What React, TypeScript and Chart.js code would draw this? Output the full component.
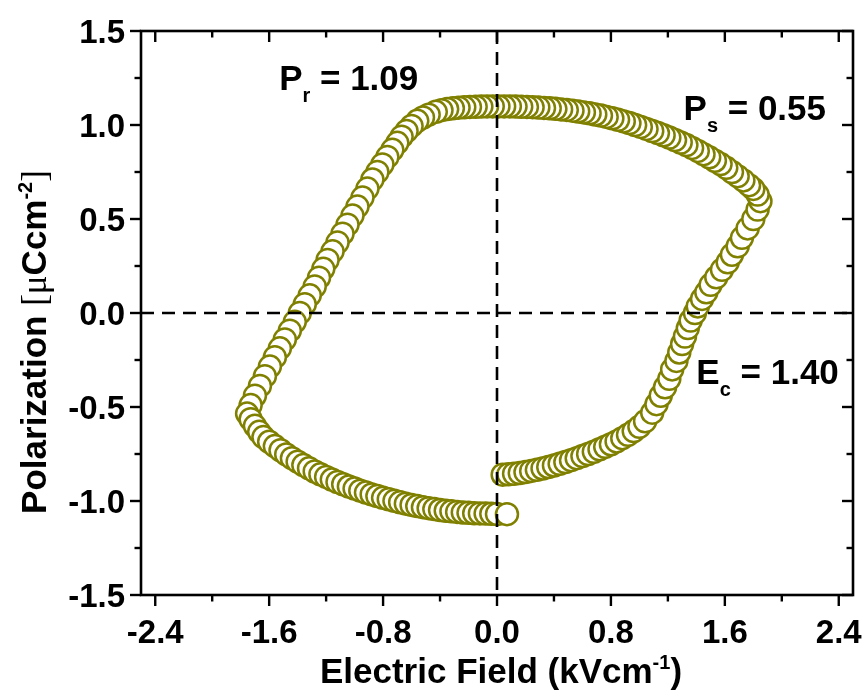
import React, { useEffect, useRef } from "react";
import { Chart, registerables } from "chart.js";

Chart.register(...registerables);

// P–E hysteresis loop, listed in sweep order.
// Branch 1: from the virgin state towards positive field (lower right)
const lowerRightE = [0.04, 0.08, 0.12, 0.16, 0.2, 0.24, 0.28, 0.32, 0.36, 0.4, 0.44, 0.48, 0.52, 0.56, 0.6, 0.64, 0.68, 0.72, 0.76, 0.8, 0.84, 0.88, 0.92, 0.96, 1.0, 1.04];
const lowerRightP = [-0.86, -0.858, -0.855, -0.851, -0.846, -0.84, -0.834, -0.827, -0.819, -0.811, -0.802, -0.793, -0.783, -0.772, -0.761, -0.75, -0.738, -0.725, -0.712, -0.698, -0.683, -0.666, -0.648, -0.628, -0.605, -0.576];

// Branch 2: switching up to the positive tip
const risingE = [1.09, 1.12, 1.15, 1.18, 1.21, 1.23, 1.26, 1.28, 1.3, 1.32, 1.34, 1.36, 1.39, 1.41, 1.44, 1.47, 1.5, 1.54, 1.58, 1.62, 1.65, 1.69, 1.72, 1.76, 1.8, 1.83, 1.85];
const risingP = [-0.53, -0.485, -0.44, -0.395, -0.35, -0.3, -0.255, -0.21, -0.165, -0.125, -0.08, -0.04, 0.0, 0.035, 0.075, 0.11, 0.15, 0.19, 0.23, 0.27, 0.31, 0.355, 0.4, 0.45, 0.5, 0.55, 0.595];

// Branch 3: field reduced back through zero (upper plateau)
const upperE = [1.83, 1.8, 1.77, 1.73, 1.69, 1.65, 1.61, 1.57, 1.53, 1.49, 1.45, 1.41, 1.37, 1.33, 1.29, 1.25, 1.21, 1.17, 1.13, 1.09, 1.05, 1.01, 0.97, 0.93, 0.89, 0.85, 0.81, 0.77, 0.73, 0.69, 0.65, 0.61, 0.57, 0.53, 0.49, 0.45, 0.41, 0.37, 0.33, 0.29, 0.25, 0.21, 0.17, 0.13, 0.09, 0.05, 0.01, -0.03, -0.07, -0.11, -0.15, -0.19, -0.23, -0.27, -0.31, -0.35, -0.39, -0.43];
const upperP = [0.63, 0.66, 0.68, 0.705, 0.728, 0.75, 0.772, 0.792, 0.81, 0.828, 0.845, 0.862, 0.878, 0.893, 0.907, 0.92, 0.933, 0.945, 0.957, 0.968, 0.979, 0.99, 1.0, 1.01, 1.019, 1.028, 1.036, 1.043, 1.05, 1.056, 1.062, 1.067, 1.072, 1.076, 1.08, 1.083, 1.086, 1.089, 1.091, 1.093, 1.095, 1.096, 1.097, 1.098, 1.099, 1.099, 1.099, 1.099, 1.099, 1.098, 1.097, 1.096, 1.094, 1.092, 1.089, 1.085, 1.079, 1.07];

// Branch 4: switching down to the negative tip
const fallingE = [-0.48, -0.52, -0.56, -0.6, -0.635, -0.67, -0.7, -0.735, -0.77, -0.805, -0.84, -0.875, -0.91, -0.945, -0.98, -1.015, -1.05, -1.085, -1.12, -1.155, -1.19, -1.22, -1.25, -1.28, -1.315, -1.35, -1.385, -1.42, -1.455, -1.49, -1.525, -1.56, -1.595, -1.63, -1.665, -1.7, -1.73, -1.755];
const fallingP = [1.055, 1.04, 1.022, 0.995, 0.968, 0.938, 0.905, 0.868, 0.83, 0.79, 0.75, 0.71, 0.662, 0.614, 0.566, 0.518, 0.47, 0.422, 0.375, 0.328, 0.282, 0.235, 0.188, 0.141, 0.094, 0.047, 0.0, -0.047, -0.094, -0.141, -0.188, -0.235, -0.285, -0.336, -0.388, -0.44, -0.49, -0.535];

// Branch 5: return towards zero field (lower plateau)
const lowerE = [-1.73, -1.7, -1.67, -1.64, -1.6, -1.56, -1.52, -1.48, -1.44, -1.4, -1.36, -1.32, -1.28, -1.24, -1.2, -1.16, -1.12, -1.08, -1.04, -1.0, -0.96, -0.92, -0.88, -0.84, -0.8, -0.76, -0.72, -0.68, -0.64, -0.6, -0.56, -0.52, -0.48, -0.44, -0.4, -0.36, -0.32, -0.28, -0.24, -0.2, -0.16, -0.12, -0.08, -0.04, 0.0, 0.07];
const lowerP = [-0.565, -0.6, -0.632, -0.66, -0.685, -0.708, -0.73, -0.752, -0.772, -0.791, -0.809, -0.826, -0.843, -0.858, -0.872, -0.886, -0.899, -0.911, -0.923, -0.934, -0.945, -0.955, -0.965, -0.974, -0.983, -0.991, -0.999, -1.007, -1.014, -1.021, -1.027, -1.033, -1.038, -1.043, -1.048, -1.052, -1.055, -1.058, -1.061, -1.063, -1.065, -1.066, -1.067, -1.068, -1.069, -1.07];

const fieldKVcm = [...lowerRightE, ...risingE, ...upperE, ...fallingE, ...lowerE];
const polarization = [...lowerRightP, ...risingP, ...upperP, ...fallingP, ...lowerP];

// Axis ticks
const xMajorTicks = [-2.4, -1.6, -0.8, 0.0, 0.8, 1.6, 2.4];
const xMinorTicks = [-2.0, -1.2, -0.4, 0.4, 1.2, 2.0];
const yMajorTicks = [-1.5, -1.0, -0.5, 0.0, 0.5, 1.0, 1.5];
const yMinorTicks = [-1.25, -0.75, -0.25, 0.25, 0.75, 1.25];

// Loop parameters written inside the plot (anchored in data units)
const loopLabels = [
  { symbol: "P", sub: "r", value: " = 1.09", e: -1.53, p: 1.186 },
  { symbol: "P", sub: "s", value: " = 0.55", e: 1.31, p: 1.027 },
  { symbol: "E", sub: "c", value: " = 1.40", e: 1.4, p: -0.378 },
];

const OLIVE = "#808000";
const SANS = "Arial, 'Liberation Sans', Helvetica, sans-serif";
const SERIF = "'Times New Roman', 'Liberation Serif', serif";

type Run = { t: string; size: number; dy?: number; serif?: boolean };

function runFont(r: Run) {
  return r.serif ? `normal ${r.size}px ${SERIF}` : `bold ${r.size}px ${SANS}`;
}

function drawRuns(ctx: CanvasRenderingContext2D, runs: Run[], x: number, y: number, align: "left" | "center" | "right") {
  const widths = runs.map((r) => {
    ctx.font = runFont(r);
    return ctx.measureText(r.t).width;
  });
  const total = widths.reduce((a, b) => a + b, 0);
  let cx = align === "center" ? x - total / 2 : align === "right" ? x - total : x;
  ctx.textAlign = "left";
  ctx.textBaseline = "alphabetic";
  runs.forEach((r, i) => {
    ctx.font = runFont(r);
    ctx.fillText(r.t, cx, y + (r.dy || 0));
    cx += widths[i];
  });
}

const TICK_FONT = 33;
const TITLE_FONT = 35;

const framePlugin = {
  id: "loopFrame",
  afterDatasetsDraw(chart: any) {
    const { ctx, chartArea: a, scales } = chart;
    const xs = scales.x;
    const ys = scales.y;
    ctx.save();
    ctx.strokeStyle = "#000";
    ctx.fillStyle = "#000";

    // dashed zero lines
    const x0 = xs.getPixelForValue(0);
    const y0 = ys.getPixelForValue(0);
    ctx.lineWidth = 2.6;
    ctx.setLineDash([13, 8]);
    ctx.beginPath();
    ctx.moveTo(x0, a.top);
    ctx.lineTo(x0, a.bottom);
    ctx.stroke();
    ctx.beginPath();
    ctx.moveTo(a.left, y0);
    ctx.lineTo(a.right, y0);
    ctx.stroke();
    ctx.setLineDash([]);

    // frame
    ctx.lineWidth = 2.6;
    ctx.strokeRect(a.left, a.top, a.right - a.left, a.bottom - a.top);

    // tick marks: outward on bottom/left, inward on top/right
    const MAJ = 11;
    const MIN = 6.5;
    ctx.lineWidth = 2.4;
    const seg = (x1: number, y1: number, x2: number, y2: number) => {
      ctx.beginPath();
      ctx.moveTo(x1, y1);
      ctx.lineTo(x2, y2);
      ctx.stroke();
    };
    xMajorTicks.forEach((v) => {
      const px = xs.getPixelForValue(v);
      seg(px, a.bottom, px, a.bottom + MAJ);
      seg(px, a.top, px, a.top + MAJ);
    });
    xMinorTicks.forEach((v) => {
      const px = xs.getPixelForValue(v);
      seg(px, a.bottom, px, a.bottom + MIN);
      seg(px, a.top, px, a.top + MIN);
    });
    yMajorTicks.forEach((v) => {
      const py = ys.getPixelForValue(v);
      seg(a.left - MAJ, py, a.left, py);
      seg(a.right - MAJ, py, a.right, py);
    });
    yMinorTicks.forEach((v) => {
      const py = ys.getPixelForValue(v);
      seg(a.left - MIN, py, a.left, py);
      seg(a.right - MIN, py, a.right, py);
    });

    // tick labels
    xMajorTicks.forEach((v) => {
      drawRuns(ctx, [{ t: v.toFixed(1), size: TICK_FONT }], xs.getPixelForValue(v), a.bottom + 48, "center");
    });
    yMajorTicks.forEach((v) => {
      drawRuns(ctx, [{ t: v.toFixed(1), size: TICK_FONT }], a.left - 16, ys.getPixelForValue(v) + 12, "right");
    });

    // axis titles
    drawRuns(
      ctx,
      [
        { t: "Electric Field (kVcm", size: TITLE_FONT },
        { t: "-1", size: 20, dy: -14 },
        { t: ")", size: TITLE_FONT },
      ],
      (a.left + a.right) / 2 + 4,
      a.bottom + 88,
      "center"
    );
    ctx.save();
    ctx.translate(46, (a.top + a.bottom) / 2 + 29);
    ctx.rotate(-Math.PI / 2);
    drawRuns(
      ctx,
      [
        { t: "Polarization ", size: TITLE_FONT },
        { t: "[\u03BC", size: TITLE_FONT, serif: true },
        { t: "Ccm", size: TITLE_FONT },
        { t: "-2", size: 20, dy: -14 },
        { t: "]", size: TITLE_FONT, serif: true },
      ],
      0,
      0,
      "center"
    );
    ctx.restore();

    // loop parameters
    loopLabels.forEach((l) => {
      drawRuns(
        ctx,
        [
          { t: l.symbol, size: TITLE_FONT },
          { t: l.sub, size: 20, dy: 12 },
          { t: l.value, size: TITLE_FONT },
        ],
        xs.getPixelForValue(l.e),
        ys.getPixelForValue(l.p),
        "left"
      );
    });

    ctx.restore();
  },
};

export default function App() {
  const canvasRef = useRef<HTMLCanvasElement | null>(null);

  useEffect(() => {
    const canvas = canvasRef.current;
    if (!canvas) return;
    const points = fieldKVcm.map((e, i) => ({ x: e, y: polarization[i] }));
    const chart = new Chart(canvas, {
      type: "scatter",
      data: {
        datasets: [
          {
            data: points,
            showLine: false,
            pointStyle: "circle",
            pointRadius: 11,
            pointBorderWidth: 2.5,
            pointBorderColor: OLIVE,
            pointBackgroundColor: "#ffffff",
            pointHoverRadius: 11,
          },
        ],
      },
      options: {
        responsive: false,
        animation: false,
        events: [],
        layout: { padding: { top: 31, right: 15, left: 0, bottom: 0 } },
        plugins: { legend: { display: false }, tooltip: { enabled: false } },
        scales: {
          x: {
            type: "linear",
            min: -2.5,
            max: 2.5,
            grid: { display: false, drawTicks: false },
            border: { display: false },
            ticks: { display: false },
            afterFit: (s: any) => {
              s.height = 98;
              s.paddingLeft = 0;
              s.paddingRight = 0;
            },
          },
          y: {
            type: "linear",
            min: -1.5,
            max: 1.5,
            grid: { display: false, drawTicks: false },
            border: { display: false },
            ticks: { display: false },
            afterFit: (s: any) => {
              s.width = 141;
              s.paddingTop = 0;
              s.paddingBottom = 0;
            },
          },
        },
      },
      plugins: [framePlugin],
    });
    return () => chart.destroy();
  }, []);

  return (
    <div style={{ position: "fixed", left: 0, top: 0, width: 868, height: 693, background: "#fff" }}>
      <canvas ref={canvasRef} width={868} height={693} style={{ display: "block" }} />
    </div>
  );
}
